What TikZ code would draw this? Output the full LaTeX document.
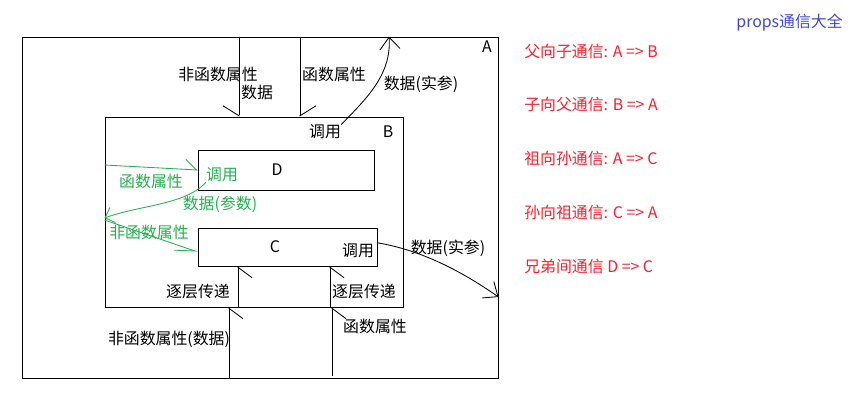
\documentclass[tikz,border=0pt]{standalone}
\usepackage{fontspec}
\setmainfont{Noto Sans CJK SC}
\usetikzlibrary{arrows.meta, positioning, calc}
\definecolor{pmgreen}{HTML}{22B14C}
\definecolor{pmred}{HTML}{F5222D}
\definecolor{pmblue}{HTML}{3F48CC}
\tikzset{
  comp/.style={rectangle, draw=black, line width=0.6pt, inner sep=0pt},
  lbl/.style={font=\fontsize{11.3}{13}\selectfont, inner sep=0pt},
  glbl/.style={lbl, text=pmgreen},
  downr/.style={line width=0.6pt, -{Straight Barb[right, length=2.5mm, width=8mm]}},
  downl/.style={line width=0.6pt, -{Straight Barb[left, length=2.5mm, width=8mm]}},
  upr/.style={line width=0.6pt, -{Straight Barb[right, length=2.6mm, width=7mm]}},
  curvearr/.style={line width=0.6pt, -{Straight Barb[length=3mm, width=5mm]}},
  garr/.style={line width=0.6pt, pmgreen, -{Straight Barb[left, length=2.8mm, width=5mm]}},
  garrb/.style={line width=0.6pt, pmgreen, -{Straight Barb[length=2mm, width=4mm]}},
  garrc/.style={line width=0.6pt, pmgreen, -{Straight Barb[right, length=5mm, width=3mm]}},
}

\begin{document}
\begin{tikzpicture}[x=0.025cm, y=-0.025cm]
        \useasboundingbox (0,0) rectangle (849,410);
        % components
        \node[comp, minimum width=11.9cm, minimum height=8.525cm] (A) at (260,207.5) {};
        \node[comp, minimum width=7.45cm, minimum height=4.75cm] (B) at (254,212) {};
        \node[comp, minimum width=4.4cm, minimum height=1.0cm] (D) at (286,170) {};
        \node[comp, minimum width=4.475cm, minimum height=0.95cm] (C) at (287.5,247) {};
        \node[lbl] (nameA) at (487,47) {A};
        \node[lbl] (nameB) at (388,132) {B};
        \node[lbl] (nameD) at (277,170) {D};
        \node[lbl] (nameC) at (275,247) {C};
        % labels
        \node[lbl] (nonfn) at (218,74) {非函数属性};
        \node[lbl] (data) at (257,92) {数据};
        \node[lbl] (fn) at (334,74) {函数属性};
        \node[lbl] (argtop) at (421,84) {数据(实参)};
        \node[lbl] (callB) at (325,132) {调用};
        \node[glbl] (dcall) at (222,175) {调用};
        \node[glbl] (gfn) at (151,181) {函数属性};
        \node[glbl] (gparam) at (220,204) {数据(参数)};
        \node[glbl] (gnonfn) at (149,232) {非函数属性};
        \node[lbl] (callC) at (358,251) {调用};
        \node[lbl] (passl) at (198,292) {逐层传递};
        \node[lbl] (passr) at (364,292) {逐层传递};
        \node[lbl] (nonfndata) at (169,339) {非函数属性(数据)};
        \node[lbl] (fnlow) at (375,326) {函数属性};
        \node[lbl] (argright) at (448,248) {数据(实参)};
        % x / y positions of the connectors
        \coordinate (x1) at (239,0);
        \coordinate (x2) at (300,0);
        \coordinate (xt) at (389,0);
        \coordinate (x3) at (238,0);
        \coordinate (x4) at (330,0);
        \coordinate (x5) at (229,0);
        \coordinate (x6) at (332,0);
        \coordinate (yr) at (0,297);
        \coordinate (g1) at (0,165);
        \coordinate (g2) at (0,218);
        \coordinate (g3) at (0,220);
        % A <-> B
        \draw[downr] (A.north -| x1) -- (B.north -| x1);
        \draw[downl] (A.north -| x2) -- (B.north -| x2);
        \draw[curvearr] (callB.north east) .. controls (365,100) and (392,75) .. (A.north -| xt);
        % A <-> C
        \draw[upr] (B.south -| x3) -- (C.south -| x3);
        \draw[upr] (B.south -| x4) -- (C.south -| x4);
        \draw[upr] (A.south -| x5) -- (B.south -| x5);
        \draw[upr] ([yshift=2pt]A.south -| x6) -- (B.south -| x6);
        \draw[curvearr] ([yshift=3pt]C.east) .. controls (420,250) and (460,270) .. (A.east |- yr);
        % B <-> D, C
        \draw[garr] (B.west |- g1) -- (D.west);
        \draw[garrb] (dcall.south west) .. controls (185,205) and (140,205) .. (B.west |- g2);
        \draw[garrc] (B.west |- g3) -- ([yshift=-3.5pt]C.west);
        % summary
        \node[lbl, text=pmblue, anchor=east] (title) at (843,22.5) {props通信大全};
        \foreach \t [count=\i] in {父向子通信: A =>\ B, 子向父通信: B =>\ A, 祖向孙通信: A =>\ C, 孙向祖通信: C =>\ A, 兄弟间通信 D =>\ C}
          \node[lbl, text=pmred, anchor=west] (rule\i) at (524,{51+53.8*(\i-1)}) {\t};
      \end{tikzpicture}
\end{document}
